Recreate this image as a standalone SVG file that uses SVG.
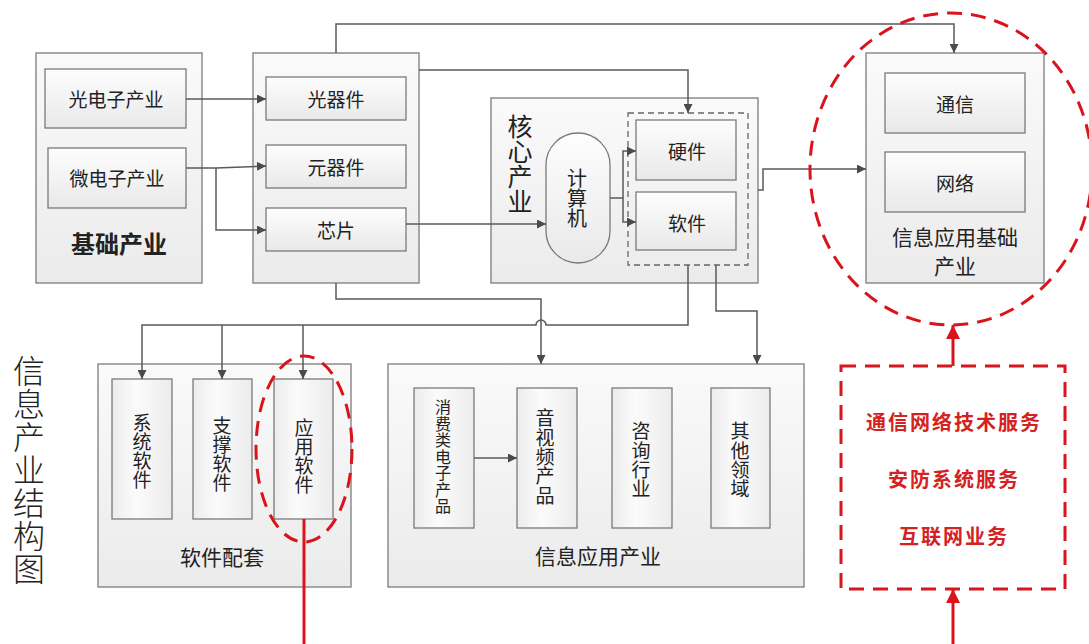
<svg xmlns="http://www.w3.org/2000/svg" width="1089" height="644" viewBox="0 0 1089 644">
<defs>
<linearGradient id="gOuter" x1="0" y1="0" x2="0" y2="1"><stop offset="0" stop-color="#fafafa"/><stop offset="1" stop-color="#ebebeb"/></linearGradient>
<linearGradient id="gInner" x1="0" y1="0" x2="0" y2="1"><stop offset="0" stop-color="#fdfdfd"/><stop offset="1" stop-color="#e9e9e9"/></linearGradient>
<linearGradient id="gVert" x1="0" y1="0" x2="1" y2="0"><stop offset="0" stop-color="#ececec"/><stop offset="0.4" stop-color="#fbfbfb"/><stop offset="1" stop-color="#ececec"/></linearGradient>
<marker id="ah" viewBox="0 0 10 10" refX="10" refY="5" markerWidth="9" markerHeight="9" markerUnits="userSpaceOnUse" orient="auto"><path d="M0,0 L10,5 L0,10 z" fill="#4a4a4a"/></marker>
<marker id="rah" viewBox="0 0 10 10" refX="10" refY="5" markerWidth="14" markerHeight="14" markerUnits="userSpaceOnUse" orient="auto"><path d="M0,0 L10,5 L0,10 z" fill="#d8141c"/></marker>
</defs>
<style>
text{font-family:"Noto Sans CJK SC","Noto Sans",sans-serif;fill:#222;text-anchor:middle;dominant-baseline:central}
.outer{fill:url(#gOuter);stroke:#8c8c8c;stroke-width:1.5}
.inner{fill:url(#gInner);stroke:#7a7a7a;stroke-width:1.3}
.vbox{fill:url(#gVert);stroke:#7a7a7a;stroke-width:1.3}
.t19{font-size:19px}
.t21{font-size:21px}
.t16{font-size:16px}
.t25{font-size:25px}
.t20{font-size:20px}
.tt{font-size:32px;font-weight:300}
.conn{fill:none;stroke:#5a5a5a;stroke-width:1.5}
.red{fill:none;stroke:#d8141c;stroke-width:3}
.rdash{fill:none;stroke:#d8141c;stroke-width:3;stroke-dasharray:15 9}
.rt{font-size:20px;font-weight:bold;fill:#d42222;letter-spacing:2px}
</style>
<rect width="1089" height="644" fill="#ffffff"/>

<g id="title">
<text class="tt" x="29" y="369">信</text>
<text class="tt" x="29" y="402">息</text>
<text class="tt" x="29" y="435">产</text>
<text class="tt" x="29" y="468">业</text>
<text class="tt" x="29" y="501">结</text>
<text class="tt" x="29" y="534">构</text>
<text class="tt" x="29" y="567">图</text>
</g>

<g id="basic">
<rect class="outer" x="36" y="53" width="166" height="230"/>
<text x="119" y="242" style="font-size:24px;font-weight:bold">基础产业</text>
</g>
<g id="optoelec"><rect class="inner" x="45" y="69" width="141" height="59"/><text class="t19" x="116" y="98">光电子产业</text></g>
<g id="microelec"><rect class="inner" x="48" y="148" width="138" height="60"/><text class="t19" x="117" y="177">微电子产业</text></g>

<g id="components">
<rect class="outer" x="253" y="53" width="166" height="230"/>
</g>
<g id="optical"><rect class="inner" x="266" y="77" width="140" height="43"/><text class="t19" x="336" y="98">光器件</text></g>
<g id="element"><rect class="inner" x="266" y="145" width="140" height="43"/><text class="t19" x="336" y="166">元器件</text></g>
<g id="chip"><rect class="inner" x="266" y="208" width="140" height="43"/><text class="t19" x="336" y="229">芯片</text></g>

<g id="core">
<rect class="outer" x="491" y="98" width="267" height="185"/>
<text class="t25" x="520" y="125">核</text>
<text class="t25" x="520" y="150">心</text>
<text class="t25" x="520" y="175">产</text>
<text class="t25" x="520" y="200">业</text>
<rect x="628" y="113" width="120" height="152" fill="none" stroke="#666" stroke-width="1.3" stroke-dasharray="6 4"/>
</g>
<g id="computer">
<rect class="inner" x="546" y="133" width="64" height="130" rx="32" ry="32"/>
<text class="t20" x="577" y="177">计</text>
<text class="t20" x="577" y="197">算</text>
<text class="t20" x="577" y="217">机</text>
</g>
<g id="hardware"><rect class="inner" x="636" y="120" width="100" height="60"/><text class="t19" x="687" y="150">硬件</text></g>
<g id="software"><rect class="inner" x="636" y="192" width="100" height="58"/><text class="t19" x="687" y="222">软件</text></g>

<g id="infobase">
<rect class="outer" x="866" y="53" width="178" height="230"/>
<text class="t21" x="955" y="236">信息应用基础</text>
<text class="t21" x="955" y="265">产业</text>
</g>
<g id="comm"><rect class="inner" x="885" y="73" width="140" height="60"/><text class="t19" x="955" y="103">通信</text></g>
<g id="network"><rect class="inner" x="885" y="152" width="140" height="60"/><text class="t19" x="955" y="182">网络</text></g>

<g id="swset">
<rect class="outer" x="98" y="364" width="253" height="223"/>
<text class="t21" x="222" y="556">软件配套</text>
</g>
<g id="syssw"><rect class="vbox" x="112" y="379" width="60" height="140"/>
<text class="t19" x="142" y="421">系</text><text class="t19" x="142" y="440">统</text><text class="t19" x="142" y="459">软</text><text class="t19" x="142" y="478">件</text></g>
<g id="supsw"><rect class="vbox" x="193" y="379" width="59" height="140"/>
<text class="t19" x="222" y="424">支</text><text class="t19" x="222" y="443">撑</text><text class="t19" x="222" y="462">软</text><text class="t19" x="222" y="481">件</text></g>
<g id="appsw"><rect class="vbox" x="274" y="379" width="59" height="140"/>
<text class="t19" x="304" y="426">应</text><text class="t19" x="304" y="445">用</text><text class="t19" x="304" y="464">软</text><text class="t19" x="304" y="483">件</text></g>

<g id="infoapp">
<rect class="outer" x="388" y="364" width="416" height="223"/>
<text class="t21" x="598" y="555">信息应用产业</text>
</g>
<g id="consumer"><rect class="vbox" x="414" y="388" width="60" height="140"/>
<text class="t16" x="443" y="406">消</text><text class="t16" x="443" y="422.5">费</text><text class="t16" x="443" y="439">类</text><text class="t16" x="443" y="455.5">电</text><text class="t16" x="443" y="472">子</text><text class="t16" x="443" y="488.5">产</text><text class="t16" x="443" y="505">品</text></g>
<g id="av"><rect class="vbox" x="517" y="388" width="60" height="140"/>
<text class="t19" x="545" y="416.5">音</text><text class="t19" x="545" y="436">视</text><text class="t19" x="545" y="455">频</text><text class="t19" x="545" y="474.5">产</text><text class="t19" x="545" y="494">品</text></g>
<g id="consult"><rect class="vbox" x="612" y="388" width="60" height="140"/>
<text class="t19" x="641" y="429.5">咨</text><text class="t19" x="641" y="449">询</text><text class="t19" x="641" y="468">行</text><text class="t19" x="641" y="487.5">业</text></g>
<g id="other"><rect class="vbox" x="711" y="388" width="59" height="140"/>
<text class="t19" x="740" y="429.5">其</text><text class="t19" x="740" y="449">他</text><text class="t19" x="740" y="468">领</text><text class="t19" x="740" y="487.5">域</text></g>

<g id="services">
<rect class="rdash" x="841" y="366" width="224" height="223"/>
<text class="rt" x="954" y="421">通信网络技术服务</text>
<text class="rt" x="954" y="478">安防系统服务</text>
<text class="rt" x="954" y="535">互联网业务</text>
</g>

<g id="connectors">
<path class="conn" d="M186,99 H266" marker-end="url(#ah)"/>
<path class="conn" d="M186,168 H216 L266,166" marker-end="url(#ah)"/>
<path class="conn" d="M216,168 V230 H266" marker-end="url(#ah)"/>
<path class="conn" d="M336,53 V24 H954 V53" marker-end="url(#ah)"/>
<path class="conn" d="M419,70 H688 V113" marker-end="url(#ah)"/>
<path class="conn" d="M406,224 H546" marker-end="url(#ah)"/>
<path class="conn" d="M610,198 H623 V151 H636" marker-end="url(#ah)"/>
<path class="conn" d="M623,198 V222 H636" marker-end="url(#ah)"/>
<path class="conn" d="M758,190 H763 V169 H866" marker-end="url(#ah)"/>
<path class="conn" d="M336,283 V299 H541 V364" marker-end="url(#ah)"/>
<path class="conn" d="M688,265 V325 H546 A5,5 0 0 0 536,325 H142 V379" marker-end="url(#ah)"/>
<path class="conn" d="M222,325 V379" marker-end="url(#ah)"/>
<path class="conn" d="M303,325 V379" marker-end="url(#ah)"/>
<path class="conn" d="M716,265 V311 H757 V364" marker-end="url(#ah)"/>
<path class="conn" d="M474,458 H517" marker-end="url(#ah)"/>
<ellipse class="rdash" cx="951" cy="169" rx="141" ry="156"/>
<ellipse class="rdash" cx="304" cy="449" rx="48" ry="93"/>
<path class="red" d="M304,519 V644"/>
<path class="red" d="M953,366 V325" marker-end="url(#rah)"/>
<path class="red" d="M953,644 V589" marker-end="url(#rah)"/>
</g>
</svg>
